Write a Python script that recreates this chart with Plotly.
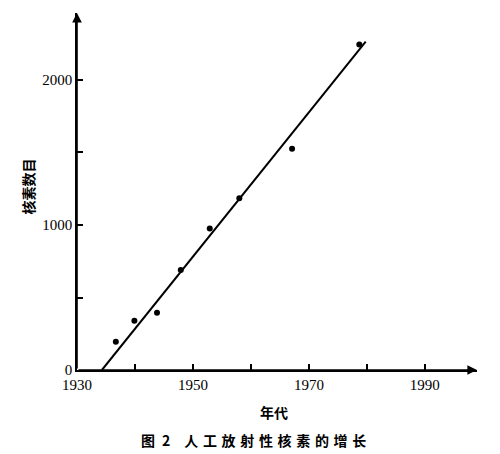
import plotly.graph_objects as go

# data
years = [1936.7, 1939.9, 1943.8, 1947.9, 1952.9, 1958.0, 1967.1, 1978.7]
nuclides = [195, 340, 395, 690, 975, 1185, 1525, 2245]
fit_years = [1934.3, 1979.8]
fit_values = [0, 2265]

x_tickvals = [1930, 1940, 1950, 1960, 1970, 1980, 1990]
x_ticktext = ["1930", "", "1950", "", "1970", "", "1990"]
y_tickvals = [0, 500, 1000, 1500, 2000]
y_ticktext = ["0", "", "1000", "", "2000"]

x_range = [1930, 1999]
y_range = [0, 2462]

serif = "Liberation Serif, Times New Roman, serif"
cjk = "Noto Sans CJK SC, sans-serif"

# page has an 8px body margin, so the figure is offset by 8px
OFF = 8
W, H = 500 - OFF, 454 - OFF
ML, MR, MT, MB = 77 - OFF, 23, 13 - OFF, 84
PW, PH = W - ML - MR, H - MT - MB

fig = go.Figure()
fig.add_trace(go.Scatter(x=fit_years, y=fit_values, mode="lines",
                         line=dict(color="black", width=2), showlegend=False,
                         cliponaxis=False))
fig.add_trace(go.Scatter(x=years, y=nuclides, mode="markers",
                         marker=dict(color="black", size=6), showlegend=False,
                         cliponaxis=False))

# axis arrows
fig.add_annotation(x=x_range[1], y=0, ax=x_range[0], ay=0, xref="x", yref="y",
                   axref="x", ayref="y", text="", showarrow=True,
                   arrowhead=2, arrowsize=1.2, arrowwidth=1.6, arrowcolor="black")
fig.add_annotation(x=x_range[0], y=y_range[1], ax=x_range[0], ay=0, xref="x", yref="y",
                   axref="x", ayref="y", text="", showarrow=True,
                   arrowhead=2, arrowsize=1.2, arrowwidth=1.6, arrowcolor="black")


def px(xp, yp):
    """screen pixel (in reference) -> paper coords"""
    return (xp - OFF - ML) / PW, (H - (yp - OFF) - MB) / PH


ax_, ay_ = px(27.5, 187)
fig.add_annotation(x=ax_, y=ay_, xref="paper", yref="paper", text="<b>核素数目</b>",
                   textangle=-90, showarrow=False, font=dict(family=cjk, size=14, color="black"),
                   xanchor="center", yanchor="middle")
ax_, ay_ = px(274, 412)
fig.add_annotation(x=ax_, y=ay_, xref="paper", yref="paper", text="<b>年代</b>",
                   showarrow=False, font=dict(family=cjk, size=14, color="black"),
                   xanchor="center", yanchor="middle")
sp = "\u2004"
caption = "图" + "\u2002" + "2" + "\u2003" + sp.join("人工放射性核素的增长")
ax_, ay_ = px(253.5, 440)
fig.add_annotation(x=ax_, y=ay_, xref="paper", yref="paper",
                   text="<b>" + caption + "</b>",
                   showarrow=False, font=dict(family=cjk, size=14, color="black"),
                   xanchor="center", yanchor="middle")

fig.update_layout(
    width=W, height=H,
    margin=dict(l=ML, r=MR, t=MT, b=MB, autoexpand=False),
    paper_bgcolor="white", plot_bgcolor="white",
    xaxis=dict(range=x_range, showgrid=False, zeroline=False, showline=True,
               linecolor="black", linewidth=1.6, ticks="inside", ticklen=6,
               tickwidth=1.5, tickcolor="black", tickvals=x_tickvals, ticktext=x_ticktext,
               tickfont=dict(family=serif, size=15, color="black"), fixedrange=True),
    yaxis=dict(range=y_range, showgrid=False, zeroline=False, showline=True,
               linecolor="black", linewidth=1.6, ticks="inside", ticklen=6,
               tickwidth=1.5, tickcolor="black", tickvals=y_tickvals, ticktext=y_ticktext,
               tickfont=dict(family=serif, size=15, color="black"), fixedrange=True),
)

fig.write_html("out.html")
